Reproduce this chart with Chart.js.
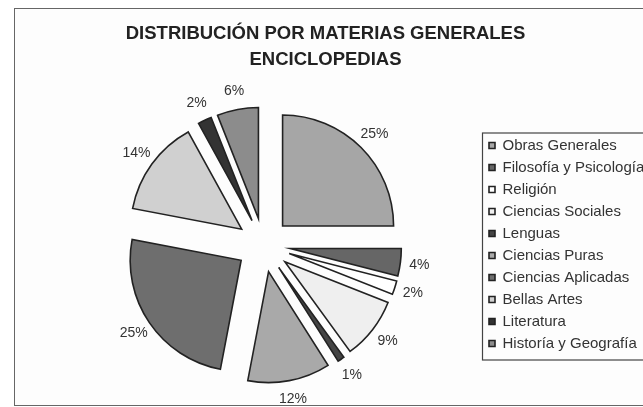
<!DOCTYPE html>
<html>
<head>
<meta charset="utf-8">
<script src="https://cdn.jsdelivr.net/npm/chart.js@4/dist/chart.umd.min.js"></script>
<style>
  html, body { margin: 0; padding: 0; background: #fff; overflow: hidden; }
  #frame {
    position: absolute; left: 14px; top: 8px; width: 629px; height: 396px;
    border: 1px solid #666; border-right: none; overflow: hidden; background: #fdfdfd;
  }
  #chart { display: block; }
</style>
</head>
<body>
<div id="frame"><canvas id="chart" width="628" height="396"></canvas></div>
<script>
// ── Data ──
const TITLE = ['DISTRIBUCIÓN POR MATERIAS GENERALES', 'ENCICLOPEDIAS'];
const MATERIAS = [
    'Obras Generales', 'Filosofía y Psicología', 'Religión', 'Ciencias Sociales', 'Lenguas',
    'Ciencias Puras', 'Ciencias Aplicadas', 'Bellas Artes', 'Literatura', 'Historía y Geografía'
];
const PORCENTAJES = [25, 4, 2, 9, 1, 12, 25, 14, 2, 6];
const GRISES = ['#a6a6a6', '#666666', '#ffffff', '#efefef', '#444444', '#a9a9a9', '#6e6e6e', '#d0d0d0', '#333333', '#8c8c8c'];

const EXPLODE = 27;     // distancia de separación de cada porción
const LABEL_GAP = 19;   // distancia de la etiqueta fuera del borde
const FONT = "'Liberation Sans', Arial, sans-serif";

// porciones separadas del centro (sin crecer el radio)
const explodePlugin = {
    id: 'explode',
    beforeDatasetDraw(chart, args) {
        const ctx = chart.ctx;
        args.meta.data.forEach(arc => {
            const mid = (arc.startAngle + arc.endAngle) / 2;
            ctx.save();
            ctx.translate(Math.cos(mid) * EXPLODE, Math.sin(mid) * EXPLODE);
            arc.draw(ctx);
            ctx.restore();
        });
        return false;
    }
};

// etiquetas de porcentaje
const pctLabels = {
    id: 'pctLabels',
    afterDatasetsDraw(chart) {
        const ctx = chart.ctx;
        const meta = chart.getDatasetMeta(0);
        ctx.save();
        ctx.font = '14px ' + FONT;
        ctx.fillStyle = '#333';
        ctx.textAlign = 'center';
        ctx.textBaseline = 'middle';
        meta.data.forEach((arc, i) => {
            const p = arc.getProps(['x', 'y', 'startAngle', 'endAngle', 'outerRadius'], true);
            const mid = (p.startAngle + p.endAngle) / 2;
            const r = p.outerRadius + EXPLODE + LABEL_GAP;
            ctx.fillText(PORCENTAJES[i] + '%', p.x + Math.cos(mid) * r, p.y + Math.sin(mid) * r);
        });
        ctx.restore();
    }
};

// la leyenda puede salir por la derecha; marco alrededor
const legendBox = {
    id: 'legendBox',
    afterLayout(chart) {
        const lg = chart.legend;
        lg.right = chart.width;
        lg.width = chart.width - lg.left;
    },
    afterDraw(chart) {
        const lg = chart.legend;
        const hb = lg.legendHitBoxes;
        if (!hb || !hb.length) return;
        const last = hb[hb.length - 1];
        const top = hb[0].top - 5;
        const bottom = last.top + last.height + 9;
        const ctx = chart.ctx;
        ctx.save();
        ctx.strokeStyle = '#444';
        ctx.lineWidth = 1.2;
        ctx.strokeRect(lg.left + 0.5, top, 400, bottom - top);
        ctx.restore();
    }
};

new Chart(document.getElementById('chart'), {
    type: 'pie',
    data: {
        labels: MATERIAS,
        datasets: [{
            data: PORCENTAJES,
            backgroundColor: GRISES,
            borderColor: '#222',
            borderWidth: 1.6,
            borderJoinStyle: 'miter'
        }]
    },
    options: {
        responsive: false, animation: false,
        radius: 111,
        layout: { padding: { left: 30, right: 37, top: 0, bottom: 47 } },
        plugins: {
            title: {
                display: true, text: TITLE, color: '#222',
                font: { family: FONT, size: 18.5, weight: 'bold', lineHeight: 1.41 },
                padding: { top: 12, bottom: 59 }
            },
            legend: {
                position: 'right', align: 'end', maxWidth: 124,
                labels: {
                    boxWidth: 6, boxHeight: 6, padding: 7, color: '#333',
                    font: { family: FONT, size: 15 }
                }
            },
            tooltip: { enabled: false }
        }
    },
    plugins: [explodePlugin, pctLabels, legendBox]
});
</script>
</body>
</html>
